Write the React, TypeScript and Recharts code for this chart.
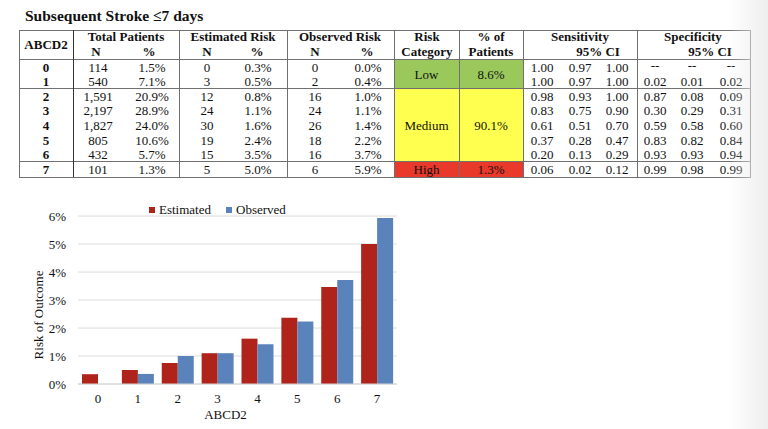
import React from 'react';
import { BarChart, Bar, XAxis, YAxis, CartesianGrid, Legend } from 'recharts';

// ---------- table data ----------
const abcd2 = ['0', '1', '2', '3', '4', '5', '6', '7'];
const totalN = ['114', '540', '1,591', '2,197', '1,827', '805', '432', '101'];
const totalPct = ['1.5%', '7.1%', '20.9%', '28.9%', '24.0%', '10.6%', '5.7%', '1.3%'];
const estN = ['0', '3', '12', '24', '30', '19', '15', '5'];
const estPct = ['0.3%', '0.5%', '0.8%', '1.1%', '1.6%', '2.4%', '3.5%', '5.0%'];
const obsN = ['0', '2', '16', '24', '26', '18', '16', '6'];
const obsPct = ['0.0%', '0.4%', '1.0%', '1.1%', '1.4%', '2.2%', '3.7%', '5.9%'];
const sensitivity = [
  ['1.00', '0.97', '1.00'],
  ['1.00', '0.97', '1.00'],
  ['0.98', '0.93', '1.00'],
  ['0.83', '0.75', '0.90'],
  ['0.61', '0.51', '0.70'],
  ['0.37', '0.28', '0.47'],
  ['0.20', '0.13', '0.29'],
  ['0.06', '0.02', '0.12'],
];
const specificity = [
  ['--', '--', '--'],
  ['0.02', '0.01', '0.02'],
  ['0.87', '0.08', '0.09'],
  ['0.30', '0.29', '0.31'],
  ['0.59', '0.58', '0.60'],
  ['0.83', '0.82', '0.84'],
  ['0.93', '0.93', '0.94'],
  ['0.99', '0.98', '0.99'],
];
const riskLabels = ['Low', 'Medium', 'High'];
const riskPatientPct = ['8.6%', '90.1%', '1.3%'];
const riskFirstRow = [0, 2, 7];
const riskLastRow = [1, 6, 7];
const riskColors = ['#9BC85B', '#FFFF4F', '#E8392A'];

// ---------- chart data ----------
const scores = ['0', '1', '2', '3', '4', '5', '6', '7'];
const estimatedRisk = [0.35, 0.5, 0.75, 1.1, 1.62, 2.37, 3.46, 5.0];
const observedRisk = [0, 0.36, 1.0, 1.1, 1.42, 2.23, 3.71, 5.93];
const yTicks = [0, 1, 2, 3, 4, 5, 6];

const chartData = scores.map((s, i) => ({ score: s, estimated: estimatedRisk[i], observed: observedRisk[i] }));

const FONT = '"Liberation Serif", "Times New Roman", serif';
const LINE = '#707070';

// table geometry
const T_LEFT = 19;
const T_RIGHT = 750;
const T_TOP = 30;
const H_BOTTOM = 59;
const SEP1 = 88;
const SEP2 = 161;
const T_BOTTOM = 177;
const vLines = [19, 73, 179, 287, 394, 459, 523, 637, 750];
const hLines = [30, 59, 88, 161, 177];
const ROW0 = 60.5;
const ROWH = 14.65;
const rowTop = (i: number) => ROW0 + i * ROWH;

const Txt: React.FC<{ cx: number; top: number; h?: number; bold?: boolean; children: React.ReactNode }> = ({ cx, top, h = ROWH, bold, children }) => (
  <div
    style={{
      position: 'absolute',
      left: cx - 50,
      width: 100,
      top,
      height: h,
      lineHeight: `${h}px`,
      textAlign: 'center',
      fontWeight: bold ? 700 : 400,
      whiteSpace: 'nowrap',
    }}
  >
    {children}
  </div>
);

const cellBoundaryY = (row: number) => (row === 0 ? H_BOTTOM : row === 2 ? SEP1 : row === 7 ? SEP2 : 0);
const cellEndY = (row: number) => (row === 1 ? SEP1 : row === 6 ? SEP2 : T_BOTTOM);

const Table: React.FC = () => {
  const colN = 98;
  const colP = 152;
  const eN = 207;
  const eP = 258;
  const oN = 315;
  const oP = 368;
  const sensX = [542, 580, 617];
  const specX = [655, 692, 731];
  return (
    <div style={{ position: 'absolute', left: 0, top: 0, width: 768, height: 190, fontFamily: FONT, fontSize: 13, color: '#111' }}>
      <div style={{ position: 'absolute', left: 25, top: 7, fontWeight: 700, fontSize: 15.5, lineHeight: '18px', whiteSpace: 'nowrap' }}>
        Subsequent Stroke ≤7 days
      </div>
      {riskLabels.map((lab, k) => {
        const y0 = cellBoundaryY(riskFirstRow[k]);
        const y1 = cellEndY(riskLastRow[k]);
        return (
          <div key={lab}>
            <div style={{ position: 'absolute', left: 394, top: y0, width: 129, height: y1 - y0, background: riskColors[k] }} />
            <Txt cx={426.5} top={y0 + 0.5} h={y1 - y0}>{lab}</Txt>
            <Txt cx={491} top={y0 + 0.5} h={y1 - y0}>{riskPatientPct[k]}</Txt>
          </div>
        );
      })}
      {hLines.map((y) => (
        <div key={'h' + y} style={{ position: 'absolute', left: T_LEFT, top: y - 0.5, width: T_RIGHT - T_LEFT + 1, height: 1, background: LINE }} />
      ))}
      {vLines.map((x) => (
        <div key={'v' + x} style={{ position: 'absolute', left: x - 0.5, top: T_TOP, width: 1, height: T_BOTTOM - T_TOP, background: x === 73 ? '#333' : LINE }} />
      ))}
      {/* header */}
      <Txt cx={46} top={37} h={16} bold>ABCD2</Txt>
      <Txt cx={126} top={30} h={14} bold>Total Patients</Txt>
      <Txt cx={colN - 2} top={45} h={14} bold>N</Txt>
      <Txt cx={colP - 3} top={45} h={14} bold>%</Txt>
      <Txt cx={233} top={30} h={14} bold>Estimated Risk</Txt>
      <Txt cx={eN} top={45} h={14} bold>N</Txt>
      <Txt cx={eP - 1} top={45} h={14} bold>%</Txt>
      <Txt cx={340} top={30} h={14} bold>Observed Risk</Txt>
      <Txt cx={oN} top={45} h={14} bold>N</Txt>
      <Txt cx={oP - 1} top={45} h={14} bold>%</Txt>
      <Txt cx={427} top={30} h={14} bold>Risk</Txt>
      <Txt cx={427} top={45} h={14} bold>Category</Txt>
      <Txt cx={491} top={30} h={14} bold>% of</Txt>
      <Txt cx={491} top={45} h={14} bold>Patients</Txt>
      <Txt cx={580} top={30} h={14} bold>Sensitivity</Txt>
      <Txt cx={598} top={45} h={14} bold>95% CI</Txt>
      <Txt cx={693} top={30} h={14} bold>Specificity</Txt>
      <Txt cx={710} top={45} h={14} bold>95% CI</Txt>
      {abcd2.map((a, i) => (
        <div key={'r' + a}>
          <Txt cx={46} top={rowTop(i)} bold>{a}</Txt>
          <Txt cx={colN} top={rowTop(i)}>{totalN[i]}</Txt>
          <Txt cx={colP} top={rowTop(i)}>{totalPct[i]}</Txt>
          <Txt cx={eN} top={rowTop(i)}>{estN[i]}</Txt>
          <Txt cx={eP} top={rowTop(i)}>{estPct[i]}</Txt>
          <Txt cx={oN} top={rowTop(i)}>{obsN[i]}</Txt>
          <Txt cx={oP} top={rowTop(i)}>{obsPct[i]}</Txt>
          {sensitivity[i].map((v, j) => (
            <Txt key={'s' + j} cx={sensX[j]} top={rowTop(i)}>{v}</Txt>
          ))}
          {specificity[i].map((v, j) => (
            <Txt key={'p' + j} cx={specX[j]} top={rowTop(i) - (v === '--' ? 2 : 0)} h={v === '--' ? 13 : ROWH}>{v}</Txt>
          ))}
        </div>
      ))}
    </div>
  );
};

const LegendContent = (props: any) => {
  const payload = props.payload || [];
  return (
    <div style={{ display: 'flex', alignItems: 'center', fontFamily: FONT, fontSize: 13, color: '#111', lineHeight: '16px', whiteSpace: 'nowrap' }}>
      {payload.map((p: any, i: number) => (
        <span key={p.value} style={{ display: 'flex', alignItems: 'center', marginRight: i === 0 ? 15 : 0 }}>
          <span style={{ display: 'inline-block', width: 6, height: 6, background: p.color, marginRight: 4 }} />
          {p.value}
        </span>
      ))}
    </div>
  );
};

const YLabel = (props: any) => {
  const vb = props.viewBox || { x: 0, y: 0, width: 0, height: 0 };
  const cx = vb.x + 38;
  const cy = vb.y + vb.height / 2 + 15;
  return (
    <text x={cx} y={cy} transform={`rotate(-90 ${cx} ${cy})`} textAnchor="middle" dominantBaseline="central" fontFamily={FONT} fontSize={13} fill="#111">
      Risk of Outcome
    </text>
  );
};

const XLabel = (props: any) => {
  const vb = props.viewBox || { x: 0, y: 0, width: 0, height: 0 };
  const cx = vb.x + vb.width / 2 - 12;
  const cy = vb.y + 30;
  return (
    <text x={cx} y={cy} textAnchor="middle" dominantBaseline="central" fontFamily={FONT} fontSize={13} fill="#111">
      ABCD2
    </text>
  );
};

export default function App() {
  return (
    <div style={{ position: 'absolute', left: 0, top: 0, width: 768, height: 429, background: '#fff', overflow: 'hidden' }}>
      <Table />
      <div style={{ position: 'absolute', left: 0, top: 190 }}>
        <BarChart width={420} height={239} data={chartData} margin={{ top: 26, right: 23, left: 0, bottom: 15 }} barGap={0} barSize={16}>
          <CartesianGrid vertical={false} stroke="#dcdcdc" />
          <XAxis
            dataKey="score"
            axisLine={{ stroke: '#d4d4d4' }}
            tickLine={false}
            tickMargin={4}
            height={30}
            tick={{ fill: '#111', fontSize: 13, fontFamily: FONT }}
            label={<XLabel />}
          />
          <YAxis
            domain={[0, 6]}
            ticks={yTicks}
            tickFormatter={(v: number) => `${v}%`}
            width={78}
            axisLine={false}
            tickLine={false}
            tickMargin={6}
            tick={{ fill: '#111', fontSize: 13, fontFamily: FONT }}
            label={<YLabel />}
          />
          <Legend verticalAlign="middle" content={<LegendContent />} wrapperStyle={{ top: 12, left: 149, width: 170 }} />
          <Bar dataKey="estimated" name="Estimated" fill="#B0231A" isAnimationActive={false} />
          <Bar dataKey="observed" name="Observed" fill="#5A83BC" isAnimationActive={false} />
        </BarChart>
      </div>
      <div style={{ position: 'absolute', right: 0, top: 0, width: 40, height: 429, background: 'linear-gradient(to right, rgba(238,238,238,0), rgba(236,236,236,0.9))', pointerEvents: 'none' }} />
    </div>
  );
}
